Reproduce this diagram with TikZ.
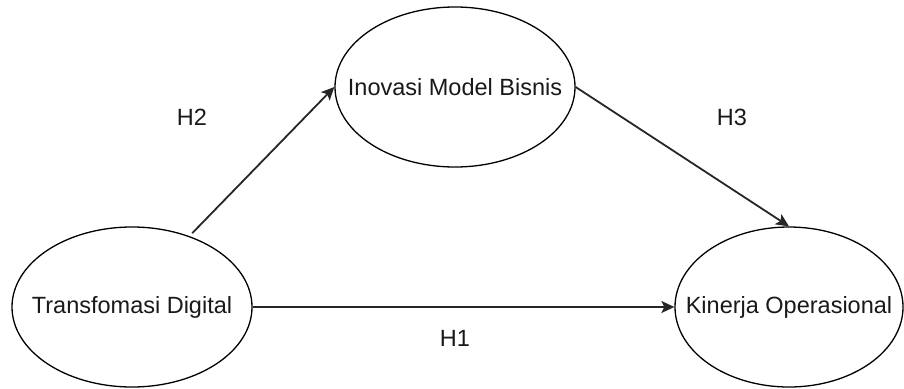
\documentclass[tikz,border=0pt]{standalone}
\usepackage{fontspec}
\setmainfont{Liberation Sans}
\usetikzlibrary{shapes.geometric,arrows.meta}
\tikzset{
  construct/.style={ellipse,draw=black,line width=1.3pt,minimum width=240pt,minimum height=160pt,inner sep=0pt,font=\fontsize{23.5}{28}\selectfont,text=black!90},
  link/.style={draw=black!85,line width=1.8pt,-{Stealth[length=13pt,width=12pt,inset=3pt]}},
  hlabel/.style={font=\fontsize{23.5}{28}\selectfont,text=black!90}
}
\newcommand{\ctext}[1]{\makebox[0pt]{#1}}
\begin{document}
\begin{tikzpicture}[x=1pt,y=-1pt]
\useasboundingbox[fill=white] (0,0) rectangle (904,388);
\node[construct] (td) at (132,307) {\ctext{Transfomasi Digital}};
\node[construct] (imb) at (455,87) {\ctext{Inovasi Model Bisnis}};
\node[construct,minimum width=228pt] (ko) at (789,307) {\ctext{Kinerja Operasional}};
\draw[link,shorten <=4pt] (td.51) -- (imb.west);
\draw[link] (imb.east) -- (ko.north);
\draw[link] (td.east) -- (ko.west);
\node[hlabel] (h2) at (192,117) {H2};
\node[hlabel] (h3) at (732,117) {H3};
\node[hlabel] (h1) at (455,338) {H1};
\end{tikzpicture}
\end{document}
